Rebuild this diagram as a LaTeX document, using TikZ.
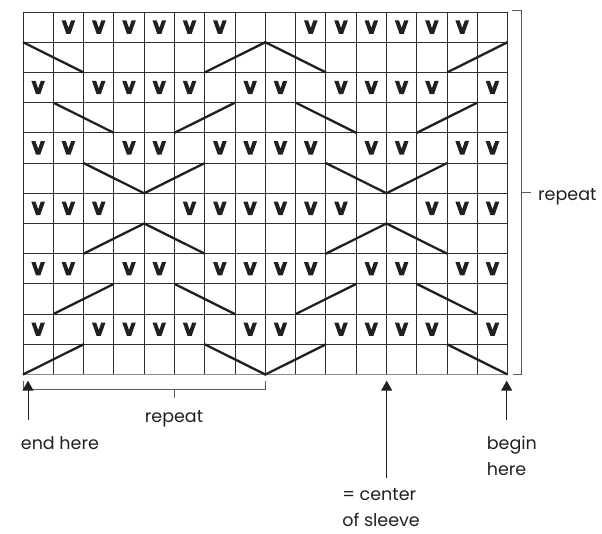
\documentclass[tikz,border=0pt]{standalone}
\usepackage{fontspec}
\setmainfont{Poppins}
\usetikzlibrary{arrows.meta}
\definecolor{ink}{HTML}{231F20}
\definecolor{rule}{HTML}{2E2E2E}
\definecolor{bracket}{HTML}{5A5A5A}
\definecolor{baserule}{HTML}{8A8A8A}
\tikzset{
  cellline/.style={draw=rule, line width=1pt},
  baserule/.style={draw=baserule, line width=1.6pt},
  cable/.style={draw=ink, line width=2.3pt},
  brk/.style={draw=bracket, line width=0.9pt},
  pointer/.style={draw=ink, line width=1pt, -{Triangle[width=11pt,length=10pt]}},
  lbl/.style={font=\fontsize{17.5}{26.2}\selectfont, text=ink, inner sep=0pt},
  vmark/.pic={
    \fill[ink] (-6.8pt,6.7pt) -- (-2.6pt,6.7pt) -- (0pt,-0.9pt) -- (2.6pt,6.7pt)
      -- (6.8pt,6.7pt) -- (2.1pt,-6.7pt) -- (-2.1pt,-6.7pt) -- cycle;
  },
}
\begin{document}
\begin{tikzpicture}[x=1pt, y=-1pt]
  \path[use as bounding box] (0,0) rectangle (602,533);

  % chart: 16 stitches by 12 rows
  \begin{scope}[shift={(23,12)}, x=30.29pt, y=-30.21pt]
    \foreach \i in {0,...,16} \draw[cellline] (\i,0) -- (\i,12);
    \foreach \j in {0,...,11} \draw[cellline] (0,\j) -- (16,\j);
    \draw[baserule] (0,12) -- (16,12);

    % slipped stitches
    \foreach \r/\cols in {
        1/{2,3,4,5,6,7,10,11,12,13,14,15},
        3/{1,3,4,5,6,8,9,11,12,13,14,16},
        5/{1,2,4,5,7,8,9,10,12,13,15,16},
        7/{1,2,3,6,7,8,9,10,11,14,15,16},
        9/{1,2,4,5,7,8,9,10,12,13,15,16},
        11/{1,3,4,5,6,8,9,11,12,13,14,16}}
      {\foreach \c in \cols {\pic at ({\c-0.5},{\r-0.5}) {vmark};}}

    % crossed strands
    \draw[cable] (0,1) -- (2,2);  \draw[cable] (6,2) -- (8,1) -- (10,2);  \draw[cable] (14,2) -- (16,1);
    \draw[cable] (1,3) -- (3,4);  \draw[cable] (5,4) -- (7,3);  \draw[cable] (9,3) -- (11,4);  \draw[cable] (13,4) -- (15,3);
    \draw[cable] (2,5) -- (4,6) -- (6,5);  \draw[cable] (10,5) -- (12,6) -- (14,5);
    \draw[cable] (2,8) -- (4,7) -- (6,8);  \draw[cable] (10,8) -- (12,7) -- (14,8);
    \draw[cable] (1,10) -- (3,9);  \draw[cable] (5,9) -- (7,10);  \draw[cable] (9,10) -- (11,9);  \draw[cable] (13,9) -- (15,10);
    \draw[cable] (0,12) -- (2,11);  \draw[cable] (6,11) -- (8,12) -- (10,11);  \draw[cable] (14,11) -- (16,12);
  \end{scope}

  % row repeat bracket
  \draw[brk] (512.3,10.7) -- (521.7,10.7) -- (521.7,374.7) -- (513,374.7);
  \draw[brk] (521.7,192.7) -- (530.7,192.7);
  \node[lbl, anchor=base west] (rowrep) at (538,200.7) {repeat};

  % stitch repeat bracket
  \draw[brk] (23,380.7) -- (23,389.3) -- (265.7,389.3) -- (265.7,380.7);
  \draw[brk] (174,389.3) -- (174,398.3);
  \node[lbl, anchor=base] (strep) at (174,422.7) {repeat};

  % pointers
  \coordinate (endtail) at (28,420);   \coordinate (endtip) at (28,380.7);
  \coordinate (midtail) at (386.7,478.3); \coordinate (midtip) at (386.7,380.7);
  \coordinate (begtail) at (506.7,420); \coordinate (begtip) at (506.7,380.7);
  \draw[pointer] (endtail) -- (endtip);
  \draw[pointer] (midtail) -- (midtip);
  \draw[pointer] (begtail) -- (begtip);

  \node[lbl, anchor=base west] (endlbl) at (20.7,449.3) {end here};
  \node[lbl, anchor=base west, align=left] (beglbl) at (486.7,475.3) {begin\\here};
  \node[lbl, anchor=base west, align=left] (midlbl) at (342.2,526.5) {= center\\of sleeve};
\end{tikzpicture}
\end{document}
